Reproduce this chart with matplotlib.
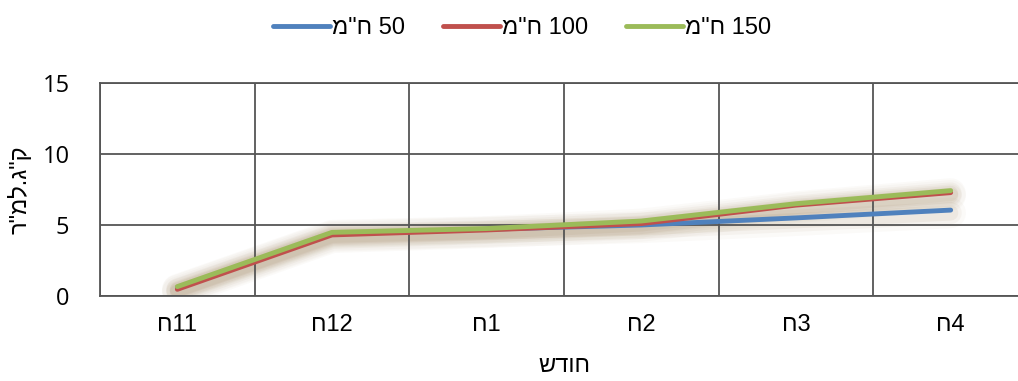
import numpy as np
import matplotlib.pyplot as plt

months = ["ח11", "ח12", "ח1", "ח2", "ח3", "ח4"]
series_names = ['מ"ח 50', 'מ"ח 100', 'מ"ח 150']
vals_50 = [0.6, 4.4, 4.7, 5.0, 5.5, 6.05]
vals_100 = [0.47, 4.3, 4.65, 5.1, 6.4, 7.28]
vals_150 = [0.66, 4.48, 4.75, 5.28, 6.5, 7.42]
colors = ["#4F81BD", "#C0504D", "#9BBB59"]

plt.rcParams['font.family'] = ['Liberation Sans', 'DejaVu Sans']

fig = plt.figure(figsize=(10.18, 3.81), dpi=100)
ax = fig.add_axes([100 / 1018, 1 - 296 / 381, 928 / 1018, 213 / 381])

x = np.arange(len(months))
for vals in [vals_50, vals_100, vals_150]:
    # soft shadow under each line
    for w, a in [(22, 0.03), (16, 0.05), (11, 0.07)]:
        ax.plot(x, np.array(vals) - 0.2, color="#8a6a3a", lw=w, alpha=a,
                solid_capstyle="round", zorder=1)
for vals, c, name in zip([vals_50, vals_100, vals_150], colors, series_names):
    ax.plot(x, vals, color=c, lw=3.5, solid_capstyle="round", label=name, zorder=3)

ax.set_xlim(-0.5, len(months) - 0.5)
ax.set_ylim(0, 15)
ax.set_yticks([0, 5, 10, 15])
ax.set_xticks(x)
ax.set_xticklabels(months, fontsize=17)
ax.set_yticklabels(["0", "5", "10", "15"], fontsize=17, family=["Open Sans", "DejaVu Sans"])
ax.tick_params(axis="y", length=0, pad=22)
ax.tick_params(axis="x", length=0, pad=13)
ax.set_xticks(np.arange(-0.5, len(months)), minor=True)
ax.tick_params(axis="x", which="minor", length=0)
ax.grid(False)
ax.xaxis.grid(True, which="minor", color="#555555", lw=1.3)
ax.yaxis.grid(True, which="major", color="#555555", lw=1.3)
for s in ax.spines.values():
    s.set_color("#555555")
    s.set_linewidth(1.3)

ax.set_xlabel("שדוח", fontsize=17, labelpad=14)
ax.set_ylabel('ר"מל.ג"ק', fontsize=17, labelpad=8)

fig.legend(loc="upper center", bbox_to_anchor=(0.513, 1.01), ncol=3, frameon=False,
           fontsize=17, handlelength=2.4, columnspacing=1.6, handletextpad=0.1)

fig.savefig("out.png", dpi=100)
